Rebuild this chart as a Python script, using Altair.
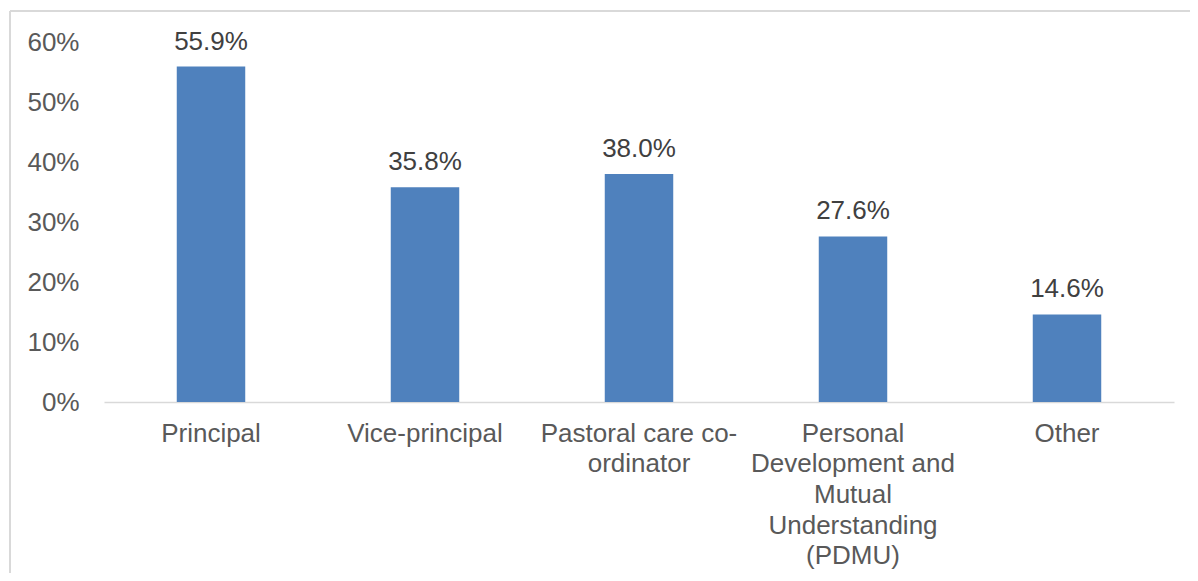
import altair as alt
import pandas as pd

categories = [
    "Principal",
    "Vice-principal",
    "Pastoral care co-|ordinator",
    "Personal|Development and|Mutual|Understanding|(PDMU)",
    "Other",
]
values = [0.559, 0.358, 0.380, 0.276, 0.146]
value_labels = ["55.9%", "35.8%", "38.0%", "27.6%", "14.6%"]
y_ticks = [0, 0.1, 0.2, 0.3, 0.4, 0.5, 0.6]

df = pd.DataFrame({"category": categories, "value": values, "label": value_labels})

FONT = "Liberation Sans"
FS = 26

x_enc = alt.X(
    "category:N",
    sort=categories,
    scale=alt.Scale(paddingInner=0.68, paddingOuter=0.34),
    axis=alt.Axis(
        title=None,
        labelAngle=0,
        labelExpr="split(datum.label, '|')",
        labelFont=FONT,
        labelFontSize=FS,
        labelColor="#595959",
        labelLineHeight=30.7,
        labelPadding=18,
        labelLimit=400,
        ticks=False,
        domainColor="#d9d9d9",
        domainWidth=1.5,
        grid=False,
    ),
)
y_scale = alt.Scale(domain=[0, 0.6], nice=False)

bars = alt.Chart(df).mark_bar(color="#4f81bd").encode(
    x=x_enc,
    y=alt.Y(
        "value:Q",
        scale=y_scale,
        axis=alt.Axis(
            title=None,
            values=y_ticks,
            format=".0%",
            labelFont=FONT,
            labelFontSize=FS,
            labelColor="#595959",
            labelPadding=25,
            ticks=False,
            domain=False,
            grid=False,
        ),
    ),
)

text = alt.Chart(df).mark_text(
    font=FONT, fontSize=FS, color="#404040", baseline="alphabetic", dy=-17
).encode(
    x=alt.X("category:N", sort=categories),
    y=alt.Y("value:Q", scale=y_scale),
    text="label:N",
)

frame_top = alt.Chart(df).mark_rule(color="#d9d9d9", strokeWidth=1.5).encode(
    x=alt.value(-94), x2=alt.value(1200), y=alt.value(-31)
)
frame_left = alt.Chart(df).mark_rule(color="#d9d9d9", strokeWidth=1.5).encode(
    x=alt.value(-94), y=alt.value(-31), y2=alt.value(700)
)

chart = (
    alt.layer(frame_top, frame_left, bars, text)
    .properties(
        width=1070,
        height=360,
        autosize=alt.AutoSizeParams(type="none"),
        padding={"left": 96, "top": 34, "right": 16, "bottom": 171},
    )
    .configure_view(stroke=None)
)

chart.save("out.html", embed_options={"renderer": "svg", "actions": False})
